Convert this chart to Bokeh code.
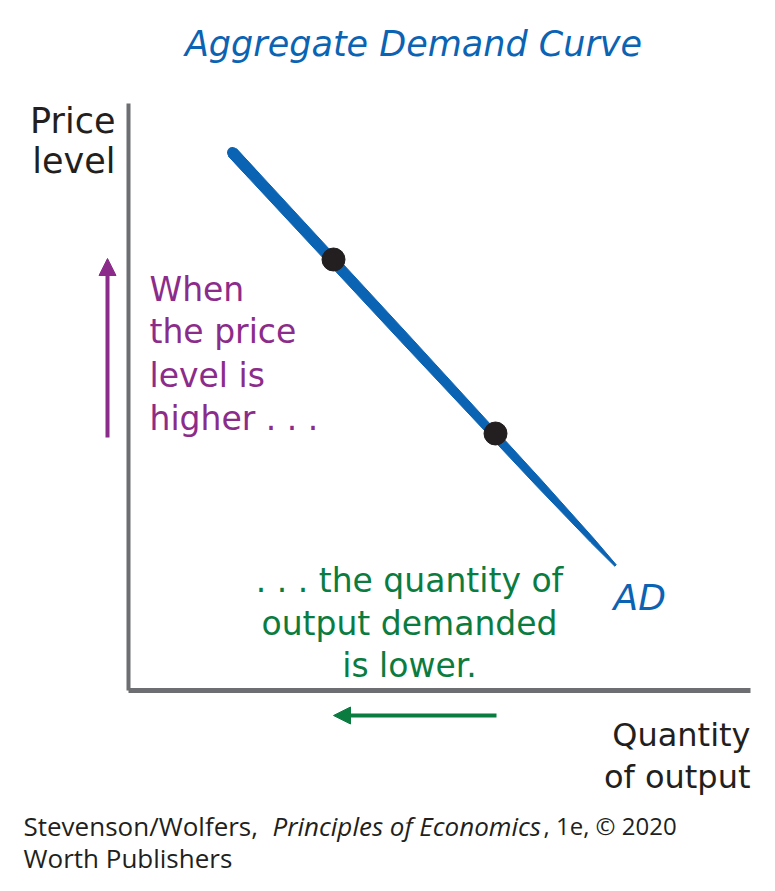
import math
from bokeh.plotting import figure
from bokeh.models import Range1d, Arrow, NormalHead
from bokeh.embed import file_html
from bokeh.resources import INLINE
from bokeh.core.properties import value

# ---- data (diagram units: origin at the axes' corner, 1 unit ~ 1 px) ----
ad_quantity = [104, 487]
ad_price = [538, 125]
point_quantity = [205, 367]
point_price = [431, 257]
axis_x_end = 622
axis_y_end = 587
price_arrow_x = -21
price_arrow_from = [253, 432]
qty_arrow_y = -25
qty_arrow_from = [368, 205]

title = "Aggregate Demand Curve"
y_label = ["Price", "level"]
x_label = ["Quantity", "of output"]
price_note = ["When", "the price", "level is", "higher . . ."]
qty_note = [". . . the quantity of", "output demanded", "is lower."]
curve_label = "AD"

BLUE = "#0b63b3"
PURPLE = "#8c2c8a"
GREEN = "#0b7c3f"
GRAY = "#6d6e71"
INK = "#231f20"
HAND = value("DejaVu Sans")

W, H = 775, 891
OX, OY = 128, 690

def fx(px):
    return px - OX

def fy(py):
    return OY - py

p = figure(width=W, height=H, output_backend="svg", toolbar_location=None,
           x_range=Range1d(-OX, W - OX), y_range=Range1d(OY - H, OY),
           min_border=0, outline_line_color=None)
p.axis.visible = False
p.grid.visible = False
p.background_fill_color = "white"

# axes
p.line([0, 0], [0, axis_y_end], line_color=GRAY, line_width=4)
p.line([0, axis_x_end], [0, 0], line_color=GRAY, line_width=5)

# AD curve as a tapered band
x0, x1 = ad_quantity
y0, y1 = ad_price
dx, dy = x1 - x0, y1 - y0
L = math.hypot(dx, dy)
nx, ny = -dy / L, dx / L
stations = [(0.0, 5.5), (0.45, 5.0), (0.8, 3.8), (0.94, 2.4), (1.0, 1.0)]
top = [(x0 + dx * t + nx * w, y0 + dy * t + ny * w) for t, w in stations]
bot = [(x0 + dx * t - nx * w, y0 + dy * t - ny * w) for t, w in reversed(stations)]
band = top + bot
p.patch([q[0] for q in band], [q[1] for q in band], fill_color=BLUE, line_color=BLUE, line_width=1)
p.line([x0, x0 + dx * 0.05], [y0, y0 + dy * 0.05], line_color=BLUE, line_width=11, line_cap="round")

p.scatter(point_quantity, point_price, size=23, fill_color=INK, line_color=INK)

# arrows
p.add_layout(Arrow(end=NormalHead(size=17, fill_color=PURPLE, line_color=PURPLE),
                   x_start=price_arrow_x, y_start=price_arrow_from[0],
                   x_end=price_arrow_x, y_end=price_arrow_from[1],
                   line_color=PURPLE, line_width=4))
p.add_layout(Arrow(end=NormalHead(size=17, fill_color=GREEN, line_color=GREEN),
                   x_start=qty_arrow_from[0], y_start=qty_arrow_y,
                   x_end=qty_arrow_from[1], y_end=qty_arrow_y,
                   line_color=GREEN, line_width=4))

# texts
p.text([fx(413)], [fy(43)], text=[title], text_font=HAND, text_font_size="35px",
       text_font_style="italic", text_color=BLUE, text_align="center", text_baseline="middle")
p.text([fx(115)] * 2, [fy(120), fy(160)], text=y_label, text_font=HAND, text_font_size="35px",
       text_color=INK, text_align="right", text_baseline="middle")
p.text([fx(149)] * 4, [fy(289), fy(331), fy(375), fy(418)], text=price_note, text_font=HAND,
       text_font_size="33px", text_color=PURPLE, text_align="left", text_baseline="middle")
p.text([fx(409)] * 3, [fy(580), fy(623), fy(665)], text=qty_note, text_font=HAND,
       text_font_size="33px", text_color=GREEN, text_align="center", text_baseline="middle")
p.text([fx(613)], [fy(597)], text=[curve_label], text_font=HAND, text_font_size="36px",
       text_font_style="italic", text_color=BLUE, text_align="left", text_baseline="middle")
p.text([fx(750)] * 2, [fy(734), fy(776)], text=x_label, text_font=HAND, text_font_size="32px",
       text_color=INK, text_align="right", text_baseline="middle")

# footer
FOOT = value("Open Sans")
p.text([fx(23)], [fy(825)], text=["Stevenson/Wolfers,"], text_font=FOOT, text_font_size="26px",
       text_color=INK, text_align="left", text_baseline="middle")
p.text([fx(272)], [fy(825)], text=["Principles of Economics"], text_font=FOOT, text_font_size="26px",
       text_font_style="italic", text_color=INK, text_align="left", text_baseline="middle")
p.text([fx(543)], [fy(825)], text=[", 1e, \u00a9 2020"], text_font=FOOT, text_font_size="24px",
       text_color=INK, text_align="left", text_baseline="middle")
p.text([fx(23)], [fy(857)], text=["Worth Publishers"], text_font=FOOT, text_font_size="26px",
       text_color=INK, text_align="left", text_baseline="middle")

open("out.html", "w").write(file_html(p, INLINE))
